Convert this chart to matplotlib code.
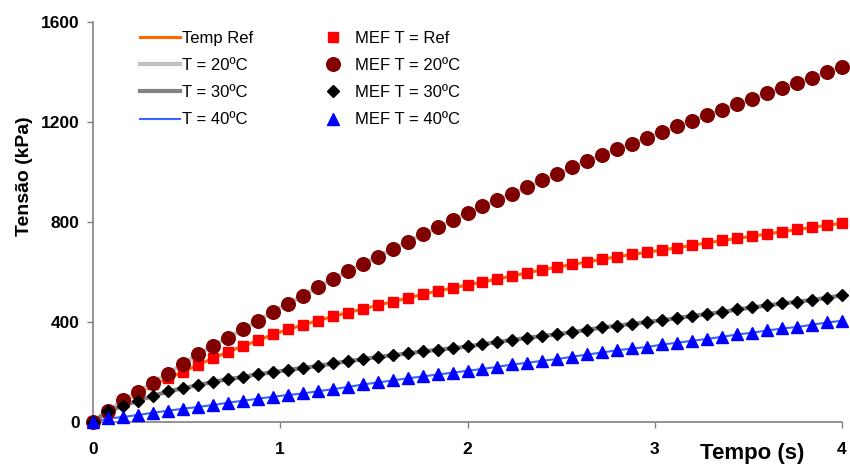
import numpy as np
import matplotlib
matplotlib.use('Agg')
import matplotlib.pyplot as plt

plt.rcParams['font.family'] = ['Liberation Sans', 'DejaVu Sans']

# time steps of the FEM output (s)
tempo = np.arange(51) * 0.08

# stress (kPa) for each temperature
tensao_ref = [0, 40, 80, 115, 150, 175, 200, 228, 255, 280,
              303, 326, 350, 370, 388, 405, 422, 437, 452, 467,
              481, 496, 510, 524, 536, 548, 560, 572, 584, 597,
              609, 620, 630, 641, 651, 661, 670, 679, 688, 697,
              707, 716, 726, 734, 743, 752, 761, 770, 778, 787, 795]
tensao_20 = [0, 42, 86, 121, 157, 193, 232, 270, 305, 337,
             371, 404, 440, 473, 505, 540, 571, 602, 633, 661,
             691, 721, 751, 778, 807, 835, 862, 888, 913, 939,
             966, 992, 1018, 1044, 1068, 1091, 1113, 1136, 1160, 1183,
             1205, 1227, 1249, 1271, 1292, 1314, 1335, 1356, 1377, 1398, 1418]
tensao_30 = [0, 44, 64, 85, 104, 122, 135, 147, 160, 171,
             180, 191, 199, 208, 216, 224, 234, 243, 251, 260,
             267, 274, 282, 289, 295, 302, 311, 320, 328, 337,
             344, 351, 359, 369, 378, 385, 393, 400, 407, 416,
             424, 432, 440, 450, 458, 466, 474, 481, 488, 497, 507]
tensao_40 = [0, 14, 20, 28, 37, 45, 53, 60, 68, 77,
             85, 93, 101, 108, 114, 123, 131, 140, 150, 158,
             166, 175, 182, 190, 197, 205, 212, 221, 230, 237,
             245, 252, 261, 270, 278, 287, 294, 300, 310, 317,
             325, 332, 341, 350, 357, 366, 374, 380, 389, 398, 405]

fig = plt.figure(figsize=(8.5, 4.68), dpi=100)
ax = fig.add_axes([0.1094, 0.0983, 0.8812, 0.8547])

# analytical curves
l_ref, = ax.plot(tempo, tensao_ref, color='#ff6600', lw=2.2, zorder=2)
l_20, = ax.plot(tempo, tensao_20, color='#c0c0c0', lw=3, zorder=2)
l_30, = ax.plot(tempo, tensao_30, color='#808080', lw=3, zorder=2)
l_40, = ax.plot(tempo, tensao_40, color='#3366ff', lw=1.5, zorder=2)

# FEM points
m_ref, = ax.plot(tempo, tensao_ref, ls='none', marker='s', ms=7.3,
                 color='#ff0000', zorder=3, clip_on=False)
m_20, = ax.plot(tempo, tensao_20, ls='none', marker='o', ms=9.8,
                color='#800000', zorder=3, clip_on=False)
m_30, = ax.plot(tempo, tensao_30, ls='none', marker='D', ms=6,
                color='black', zorder=3, clip_on=False)
m_40, = ax.plot(tempo, tensao_40, ls='none', marker='^', ms=8,
                color='#0000ff', zorder=3, clip_on=False)

ax.set_xlim(0, 4)
ax.set_ylim(0, 1600)
ax.set_xticks([0, 1, 2, 3, 4])
ax.set_yticks([0, 400, 800, 1200, 1600])

for s in ['top', 'right']:
    ax.spines[s].set_visible(False)
for s in ['left', 'bottom']:
    ax.spines[s].set_color('#808080')
    ax.spines[s].set_linewidth(1.2)

ax.tick_params(axis='both', direction='out', length=4.5, width=1,
               color='#808080', labelsize=12.5)
ax.tick_params(axis='x', pad=10)
ax.tick_params(axis='y', pad=5)
for lab in ax.get_xticklabels() + ax.get_yticklabels():
    lab.set_fontweight('bold')

ax.set_ylabel('Tensão (kPa)', fontsize=14, fontweight='bold')
ax.yaxis.set_label_coords(-0.08, 0.615)
ax.text(0.88, -0.08, 'Tempo (s)', transform=ax.transAxes, fontsize=16,
        fontweight='bold', ha='center', va='center')

handles = [l_ref, l_20, l_30, l_40, m_ref, m_20, m_30, m_40]
labels = ['Temp Ref', 'T = 20ºC', 'T = 30ºC', 'T = 40ºC',
          'MEF T = Ref', 'MEF T = 20ºC', 'MEF T = 30ºC', 'MEF T = 40ºC']
fig.legend(handles, labels, ncol=2, loc='upper left',
           bbox_to_anchor=(140 / 850, 1 - 31 / 468), frameon=False,
           fontsize=12, handlelength=2.4, handletextpad=0.15,
           columnspacing=3.55, labelspacing=0.73, borderpad=0,
           borderaxespad=0)

fig.savefig('out.png', dpi=100)
